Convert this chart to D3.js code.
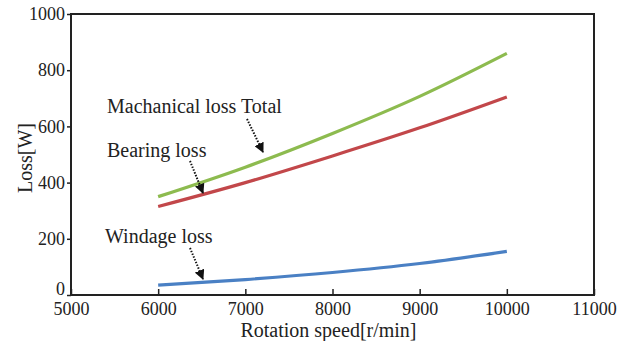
<!DOCTYPE html>
<html><head><meta charset="utf-8">
<script src="https://cdn.jsdelivr.net/npm/d3@7"></script>
<style>body{margin:0;background:#fff}svg text{font-family:"Liberation Serif","Times New Roman",serif;fill:#222}</style>
</head><body><div id="c"></div>
<script>
const speeds = [6000, 7000, 8000, 9000, 10000];
const totalLoss = [350, 455, 575, 707, 860];
const bearingLoss = [315, 400, 495, 595, 705];
const windageLoss = [35, 55, 80, 112, 155];
const xTicks = [5000, 6000, 7000, 8000, 9000, 10000, 11000];
const yTicks = [0, 200, 400, 600, 800, 1000];
const series = [
  {name: "Machanical loss Total", values: totalLoss, color: "#8dbb4f"},
  {name: "Bearing loss", values: bearingLoss, color: "#c2474a"},
  {name: "Windage loss", values: windageLoss, color: "#4a80c4"}
];

const W = 622, H = 341;
const m = {left: 71, right: 28, top: 14, bottom: 46};
const svg = d3.select("#c").append("svg").attr("width", W).attr("height", H);
const x = d3.scaleLinear().domain([5000, 11000]).range([m.left, W - m.right]);
const y = d3.scaleLinear().domain([0, 1000]).range([H - m.bottom, m.top]);

svg.append("defs").append("marker").attr("id", "ah").attr("viewBox", "0 0 10 10")
  .attr("refX", 9).attr("refY", 5).attr("markerWidth", 10).attr("markerHeight", 10)
  .attr("markerUnits", "userSpaceOnUse").attr("orient", "auto")
  .append("path").attr("d", "M0,0 L10,5 L0,10 Z").attr("fill", "#111");

// frame
svg.append("rect").attr("x", m.left).attr("y", m.top)
  .attr("width", W - m.right - m.left).attr("height", H - m.bottom - m.top)
  .attr("fill", "none").attr("stroke", "#222").attr("stroke-width", 2);

const xa = svg.append("g").attr("transform", `translate(0,${H - m.bottom})`)
  .call(d3.axisBottom(x).tickValues(xTicks).tickSize(-6).tickPadding(6).tickFormat(d3.format("d")));
xa.select(".domain").remove();
xa.selectAll("line").attr("stroke", "#222").attr("stroke-width", 1.5);
xa.selectAll("text").attr("font-size", 18).attr("dy", "0.78em");

const ya = svg.append("g").attr("transform", `translate(${m.left},0)`)
  .call(d3.axisLeft(y).tickValues(yTicks).tickSize(4).tickPadding(2).tickFormat(d3.format("d")));
ya.select(".domain").remove();
ya.selectAll("line").attr("stroke", "#222").attr("stroke-width", 1.5);
ya.selectAll("text").attr("font-size", 18).attr("dy", "0.32em");
ya.selectAll(".tick").filter(d => d === 0).select("text").attr("dy", "-0.05em");

svg.append("text").attr("x", (m.left + W - m.right) / 2 - 4).attr("y", 337)
  .attr("text-anchor", "middle").attr("font-size", 20).text("Rotation speed[r/min]");
svg.append("text").attr("transform", `translate(32,158) rotate(-90)`)
  .attr("text-anchor", "middle").attr("font-size", 20).text("Loss[W]");

const line = d3.line().x((d, i) => x(speeds[i])).y(d => y(d)).curve(d3.curveMonotoneX);
series.forEach(s => {
  svg.append("path").datum(s.values).attr("d", line).attr("fill", "none")
    .attr("stroke", s.color).attr("stroke-width", 3.2);
});

const notes = [
  {text: "Machanical loss Total", tx: 107, ty: 113, a: [247, 119, 263, 152]},
  {text: "Bearing loss", tx: 107, ty: 157, a: [190, 161, 203, 193]},
  {text: "Windage loss", tx: 105, ty: 243, a: [190, 248, 203, 279]}
];
notes.forEach(n => {
  svg.append("text").attr("x", n.tx).attr("y", n.ty).attr("font-size", 20).text(n.text);
  svg.append("line").attr("x1", n.a[0]).attr("y1", n.a[1]).attr("x2", n.a[2]).attr("y2", n.a[3])
    .attr("stroke", "#111").attr("stroke-width", 2).attr("stroke-dasharray", "1.5,1.5")
    .attr("marker-end", "url(#ah)");
});
</script></body></html>
